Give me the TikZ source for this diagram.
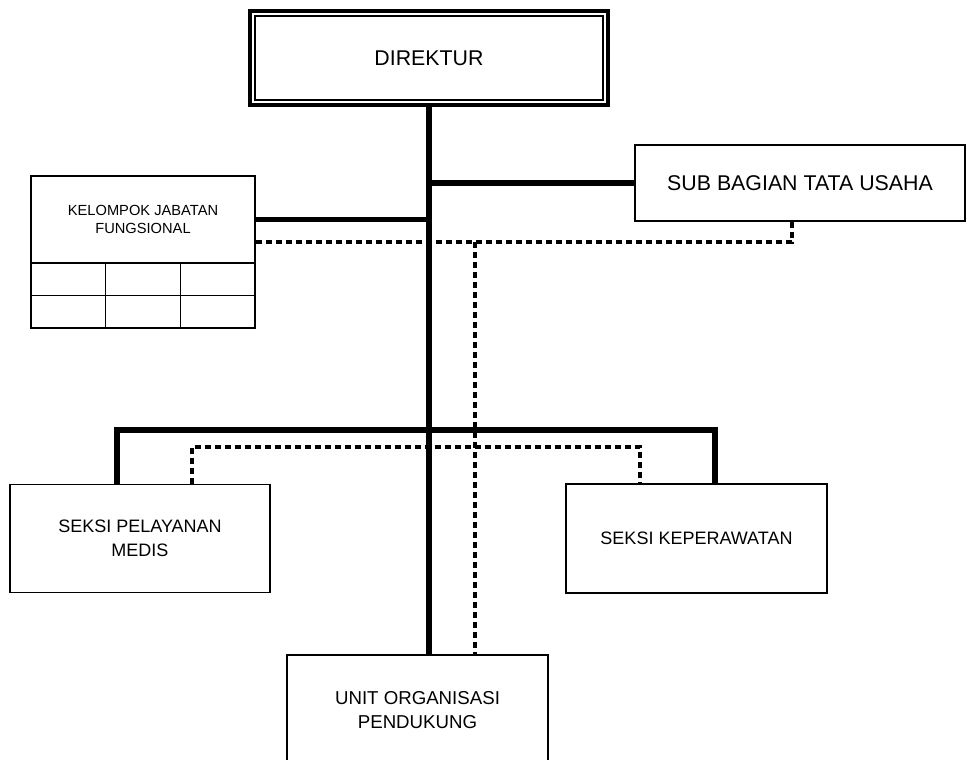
\documentclass[tikz,border=0pt]{standalone}
\usepackage{fontspec}
\setmainfont{Liberation Sans}
\usetikzlibrary{positioning,calc}

\begin{document}
\begin{tikzpicture}[
    x=0.75pt, y=-0.75pt,
    unit/.style={rectangle, draw, line width=1.2pt, inner sep=0pt, align=center, fill=white},
    cell/.style={rectangle, draw, line width=1.2pt, inner sep=0pt, minimum width=56pt, minimum height=24.4pt},
    trunk/.style={line width=4pt},
    staff/.style={line width=2.6pt, dash pattern=on 4.5pt off 3pt}
]
\useasboundingbox (0,0) rectangle (967,760);

% Direktur
\node[unit, line width=3.2pt, minimum width=268.5pt, minimum height=70.5pt,
      font=\fontsize{16}{19}\selectfont] (dir) at (429,58) {DIREKTUR};
\draw[line width=1.2pt] ($(dir.south west)+(7,-7)$) rectangle ($(dir.north east)+(-7,7)$);

% Kelompok jabatan fungsional
\node[unit, minimum width=168pt, minimum height=65.25pt,
      font=\fontsize{11}{13.5}\selectfont] (kjf) at (143,219.5) {KELOMPOK JABATAN\\FUNGSIONAL};
\foreach \r/\y in {1/279.25,2/311.75} {
    \foreach \c/\x in {1/68.33,2/143,3/217.67} {
        \node[cell] (cell\r\c) at (\x,\y) {};
    }
}

% Sub bagian tata usaha
\node[unit, minimum width=247.5pt, minimum height=57pt,
      font=\fontsize{16}{19}\selectfont] (sbtu) at (800,183) {SUB BAGIAN TATA USAHA};

% Seksi
\node[unit, minimum width=195pt, minimum height=81pt,
      font=\fontsize{13.5}{18}\selectfont] (spm) at (140,538.5) {SEKSI PELAYANAN\\MEDIS};
\node[unit, minimum width=195.75pt, minimum height=81.75pt,
      font=\fontsize{13.5}{18}\selectfont] (skep) at (696.5,538.5) {SEKSI KEPERAWATAN};

% Unit organisasi pendukung
\node[unit, minimum width=195.75pt, minimum height=82.5pt,
      font=\fontsize{14}{18}\selectfont] (uop) at (417.5,710) {UNIT ORGANISASI\\PENDUKUNG};

% Connections
\coordinate (barL) at (117,430);
\coordinate (barR) at (715,430);
\coordinate (dkjf) at (255,242);
\coordinate (dsub) at (792,242);
\coordinate (dtrunk) at (475,242);
\coordinate (dbarL) at (192,447);
\coordinate (dbarR) at (640,447);

\draw[trunk] (dir.south) -- (dir.south |- uop.north);
\draw[trunk] (kjf.east) -- (kjf.east -| dir.south);
\draw[trunk] (sbtu.west) -- (sbtu.west -| dir.south);
\draw[trunk] (spm.north -| barL) -- (barL) -- (barR) -- (skep.north -| barR);

\draw[staff] (sbtu.south -| dsub) -- (dsub) -- (dkjf);
\draw[staff] (dtrunk) -- (dtrunk |- uop.north);
\draw[staff] (spm.north -| dbarL) -- (dbarL) -- (dbarR) -- (skep.north -| dbarR);

\end{tikzpicture}
\end{document}
